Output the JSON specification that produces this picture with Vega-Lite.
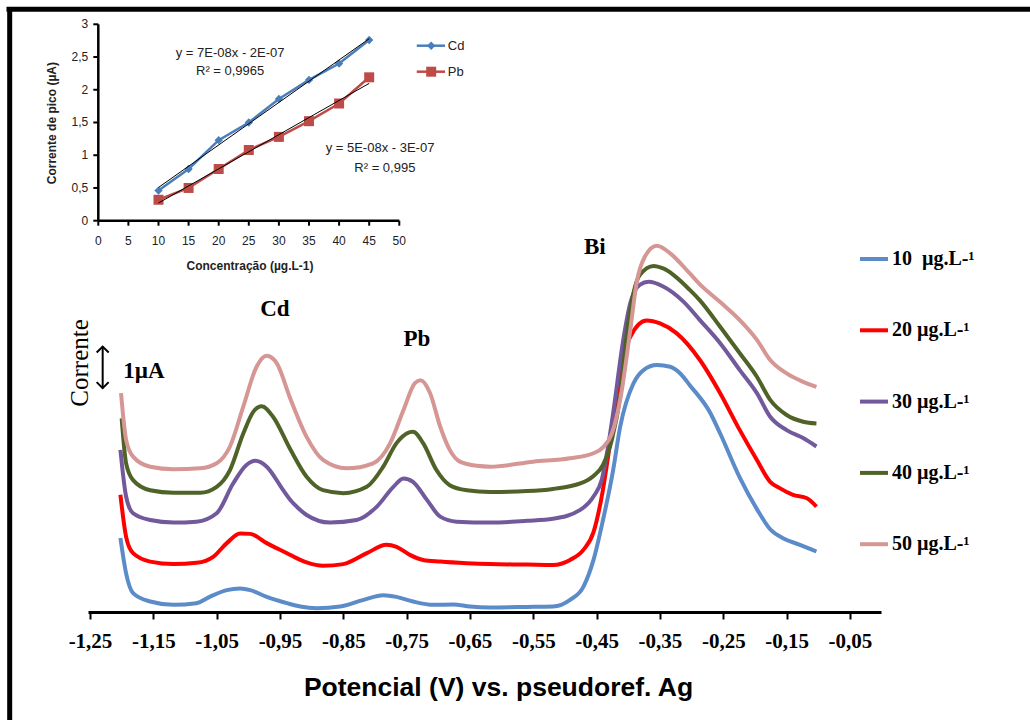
{
  "$schema": "https://vega.github.io/schema/vega-lite/v6.json",
  "width": 793,
  "height": 612,
  "autosize": {"type": "none"},
  "padding": {"left": 88, "top": 0, "right": 149, "bottom": 108},
  "background": "white",
  "config": {"view": {"stroke": null}},
  "datasets": {
    "curves": [
      {"c":10,"v":-1.202,"i":1.76},{"c":10,"v":-1.193,"i":0.92},{"c":10,"v":-1.182,"i":0.45},{"c":10,"v":-1.155,"i":0.25},{"c":10,"v":-1.118,"i":0.17},{"c":10,"v":-1.082,"i":0.21},{"c":10,"v":-1.061,"i":0.36},{"c":10,"v":-1.034,"i":0.52},{"c":10,"v":-1.013,"i":0.56},{"c":10,"v":-0.997,"i":0.52},{"c":10,"v":-0.971,"i":0.36},{"c":10,"v":-0.939,"i":0.21},{"c":10,"v":-0.918,"i":0.13},{"c":10,"v":-0.892,"i":0.09},{"c":10,"v":-0.855,"i":0.13},{"c":10,"v":-0.818,"i":0.29},{"c":10,"v":-0.787,"i":0.40},{"c":10,"v":-0.766,"i":0.36},{"c":10,"v":-0.740,"i":0.25},{"c":10,"v":-0.708,"i":0.17},{"c":10,"v":-0.676,"i":0.18},{"c":10,"v":-0.650,"i":0.13},{"c":10,"v":-0.618,"i":0.11},{"c":10,"v":-0.560,"i":0.12},{"c":10,"v":-0.519,"i":0.13},{"c":10,"v":-0.492,"i":0.29},{"c":10,"v":-0.471,"i":0.60},{"c":10,"v":-0.455,"i":1.24},{"c":10,"v":-0.440,"i":2.19},{"c":10,"v":-0.424,"i":3.38},{"c":10,"v":-0.413,"i":4.40},{"c":10,"v":-0.392,"i":5.44},{"c":10,"v":-0.376,"i":5.76},{"c":10,"v":-0.355,"i":5.88},{"c":10,"v":-0.334,"i":5.84},{"c":10,"v":-0.318,"i":5.68},{"c":10,"v":-0.303,"i":5.40},{"c":10,"v":-0.271,"i":4.75},{"c":10,"v":-0.255,"i":4.25},{"c":10,"v":-0.224,"i":3.20},{"c":10,"v":-0.197,"i":2.45},{"c":10,"v":-0.176,"i":1.97},{"c":10,"v":-0.155,"i":1.75},{"c":10,"v":-0.129,"i":1.60},{"c":10,"v":-0.103,"i":1.44},
      {"c":20,"v":-1.202,"i":2.79},{"c":20,"v":-1.193,"i":1.79},{"c":20,"v":-1.182,"i":1.40},{"c":20,"v":-1.155,"i":1.20},{"c":20,"v":-1.118,"i":1.14},{"c":20,"v":-1.082,"i":1.17},{"c":20,"v":-1.055,"i":1.32},{"c":20,"v":-1.034,"i":1.64},{"c":20,"v":-1.013,"i":1.87},{"c":20,"v":-0.997,"i":1.86},{"c":20,"v":-0.971,"i":1.64},{"c":20,"v":-0.939,"i":1.40},{"c":20,"v":-0.918,"i":1.24},{"c":20,"v":-0.908,"i":1.18},{"c":20,"v":-0.882,"i":1.10},{"c":20,"v":-0.850,"i":1.14},{"c":20,"v":-0.813,"i":1.40},{"c":20,"v":-0.782,"i":1.60},{"c":20,"v":-0.766,"i":1.55},{"c":20,"v":-0.745,"i":1.36},{"c":20,"v":-0.724,"i":1.24},{"c":20,"v":-0.697,"i":1.20},{"c":20,"v":-0.655,"i":1.16},{"c":20,"v":-0.618,"i":1.14},{"c":20,"v":-0.560,"i":1.13},{"c":20,"v":-0.519,"i":1.12},{"c":20,"v":-0.492,"i":1.24},{"c":20,"v":-0.471,"i":1.48},{"c":20,"v":-0.455,"i":1.90},{"c":20,"v":-0.442,"i":2.75},{"c":20,"v":-0.429,"i":4.00},{"c":20,"v":-0.413,"i":5.68},{"c":20,"v":-0.397,"i":6.55},{"c":20,"v":-0.371,"i":6.94},{"c":20,"v":-0.350,"i":6.87},{"c":20,"v":-0.324,"i":6.64},{"c":20,"v":-0.287,"i":6.00},{"c":20,"v":-0.255,"i":5.21},{"c":20,"v":-0.224,"i":4.33},{"c":20,"v":-0.197,"i":3.62},{"c":20,"v":-0.176,"i":3.10},{"c":20,"v":-0.161,"i":2.95},{"c":20,"v":-0.140,"i":2.79},{"c":20,"v":-0.118,"i":2.71},{"c":20,"v":-0.103,"i":2.51},
      {"c":30,"v":-1.202,"i":3.86},{"c":30,"v":-1.193,"i":2.75},{"c":30,"v":-1.182,"i":2.35},{"c":30,"v":-1.155,"i":2.19},{"c":30,"v":-1.118,"i":2.13},{"c":30,"v":-1.082,"i":2.15},{"c":30,"v":-1.050,"i":2.35},{"c":30,"v":-1.024,"i":3.06},{"c":30,"v":-1.003,"i":3.50},{"c":30,"v":-0.989,"i":3.60},{"c":30,"v":-0.971,"i":3.46},{"c":30,"v":-0.945,"i":2.90},{"c":30,"v":-0.934,"i":2.67},{"c":30,"v":-0.918,"i":2.43},{"c":30,"v":-0.908,"i":2.31},{"c":30,"v":-0.871,"i":2.13},{"c":30,"v":-0.829,"i":2.19},{"c":30,"v":-0.797,"i":2.51},{"c":30,"v":-0.771,"i":2.98},{"c":30,"v":-0.755,"i":3.18},{"c":30,"v":-0.740,"i":3.10},{"c":30,"v":-0.718,"i":2.67},{"c":30,"v":-0.697,"i":2.27},{"c":30,"v":-0.671,"i":2.15},{"c":30,"v":-0.618,"i":2.13},{"c":30,"v":-0.560,"i":2.17},{"c":30,"v":-0.519,"i":2.22},{"c":30,"v":-0.476,"i":2.43},{"c":30,"v":-0.455,"i":2.75},{"c":30,"v":-0.442,"i":3.15},{"c":30,"v":-0.432,"i":3.94},{"c":30,"v":-0.424,"i":4.73},{"c":30,"v":-0.408,"i":6.48},{"c":30,"v":-0.397,"i":7.35},{"c":30,"v":-0.382,"i":7.79},{"c":30,"v":-0.368,"i":7.86},{"c":30,"v":-0.345,"i":7.75},{"c":30,"v":-0.313,"i":7.39},{"c":30,"v":-0.287,"i":6.95},{"c":30,"v":-0.255,"i":6.40},{"c":30,"v":-0.224,"i":5.76},{"c":30,"v":-0.197,"i":5.21},{"c":30,"v":-0.176,"i":4.65},{"c":30,"v":-0.150,"i":4.33},{"c":30,"v":-0.124,"i":4.14},{"c":30,"v":-0.103,"i":3.94},
      {"c":40,"v":-1.200,"i":4.61},{"c":40,"v":-1.193,"i":3.54},{"c":40,"v":-1.182,"i":3.14},{"c":40,"v":-1.155,"i":2.90},{"c":40,"v":-1.118,"i":2.84},{"c":40,"v":-1.076,"i":2.84},{"c":40,"v":-1.050,"i":2.98},{"c":40,"v":-1.029,"i":3.38},{"c":40,"v":-1.008,"i":4.25},{"c":40,"v":-0.992,"i":4.77},{"c":40,"v":-0.979,"i":4.90},{"c":40,"v":-0.961,"i":4.65},{"c":40,"v":-0.934,"i":3.88},{"c":40,"v":-0.908,"i":3.22},{"c":40,"v":-0.882,"i":2.90},{"c":40,"v":-0.850,"i":2.83},{"c":40,"v":-0.813,"i":2.98},{"c":40,"v":-0.787,"i":3.46},{"c":40,"v":-0.766,"i":4.02},{"c":40,"v":-0.750,"i":4.25},{"c":40,"v":-0.740,"i":4.29},{"c":40,"v":-0.724,"i":4.02},{"c":40,"v":-0.703,"i":3.38},{"c":40,"v":-0.682,"i":3.02},{"c":40,"v":-0.655,"i":2.90},{"c":40,"v":-0.618,"i":2.86},{"c":40,"v":-0.560,"i":2.88},{"c":40,"v":-0.519,"i":2.93},{"c":40,"v":-0.476,"i":3.06},{"c":40,"v":-0.455,"i":3.24},{"c":40,"v":-0.440,"i":3.50},{"c":40,"v":-0.426,"i":4.10},{"c":40,"v":-0.413,"i":5.13},{"c":40,"v":-0.403,"i":6.55},{"c":40,"v":-0.392,"i":7.59},{"c":40,"v":-0.382,"i":8.02},{"c":40,"v":-0.360,"i":8.24},{"c":40,"v":-0.345,"i":8.18},{"c":40,"v":-0.303,"i":7.67},{"c":40,"v":-0.287,"i":7.42},{"c":40,"v":-0.255,"i":6.79},{"c":40,"v":-0.224,"i":6.16},{"c":40,"v":-0.197,"i":5.60},{"c":40,"v":-0.176,"i":5.05},{"c":40,"v":-0.150,"i":4.69},{"c":40,"v":-0.124,"i":4.53},{"c":40,"v":-0.103,"i":4.49},
      {"c":50,"v":-1.201,"i":5.21},{"c":50,"v":-1.193,"i":4.10},{"c":50,"v":-1.182,"i":3.70},{"c":50,"v":-1.155,"i":3.46},{"c":50,"v":-1.118,"i":3.40},{"c":50,"v":-1.076,"i":3.42},{"c":50,"v":-1.050,"i":3.54},{"c":50,"v":-1.029,"i":3.94},{"c":50,"v":-1.008,"i":4.89},{"c":50,"v":-0.987,"i":5.84},{"c":50,"v":-0.971,"i":6.10},{"c":50,"v":-0.955,"i":5.92},{"c":50,"v":-0.934,"i":5.09},{"c":50,"v":-0.908,"i":4.17},{"c":50,"v":-0.882,"i":3.62},{"c":50,"v":-0.845,"i":3.42},{"c":50,"v":-0.803,"i":3.54},{"c":50,"v":-0.776,"i":4.02},{"c":50,"v":-0.755,"i":4.81},{"c":50,"v":-0.737,"i":5.45},{"c":50,"v":-0.728,"i":5.52},{"c":50,"v":-0.713,"i":5.21},{"c":50,"v":-0.697,"i":4.41},{"c":50,"v":-0.682,"i":3.86},{"c":50,"v":-0.666,"i":3.58},{"c":50,"v":-0.639,"i":3.48},{"c":50,"v":-0.618,"i":3.46},{"c":50,"v":-0.550,"i":3.58},{"c":50,"v":-0.492,"i":3.66},{"c":50,"v":-0.455,"i":3.78},{"c":50,"v":-0.440,"i":3.92},{"c":50,"v":-0.426,"i":4.25},{"c":50,"v":-0.412,"i":5.13},{"c":50,"v":-0.397,"i":6.71},{"c":50,"v":-0.387,"i":7.83},{"c":50,"v":-0.374,"i":8.46},{"c":50,"v":-0.355,"i":8.72},{"c":50,"v":-0.334,"i":8.54},{"c":50,"v":-0.303,"i":8.06},{"c":50,"v":-0.287,"i":7.80},{"c":50,"v":-0.255,"i":7.38},{"c":50,"v":-0.224,"i":6.95},{"c":50,"v":-0.197,"i":6.48},{"c":50,"v":-0.176,"i":6.00},{"c":50,"v":-0.150,"i":5.68},{"c":50,"v":-0.124,"i":5.48},{"c":50,"v":-0.103,"i":5.36}
    ],
    "peaks": [{"v":-0.958,"i":7.05,"t":"Cd"},{"v":-0.734,"i":6.33,"t":"Pb"},{"v":-0.453,"i":8.52,"t":"Bi"},{"v":-1.165,"i":5.57,"t":"1µA"}],
    "ylabel": [{"v":-1.253,"i":5.93,"t":"Corrente"}],
    "arrow": [{"v":-1.230,"i":5.33,"i2":6.32}],
    "heads": [{"v":-1.230,"i":6.32,"d":"up"},{"v":-1.230,"i":5.33,"d":"down"}],
    "frame": [{"x":-14.72,"x2":-14.72,"y":3.264,"y2":-7.7},{"x":-15.25,"x2":155,"y":3.23,"y2":3.23}],
    "iaxes": [{"x":0,"x2":50,"y":0,"y2":0},{"x":0,"x2":0,"y":0,"y2":3}],
    "iticks": [
      {"a":"x","v":0,"l":"0"},{"a":"x","v":5,"l":"5"},{"a":"x","v":10,"l":"10"},{"a":"x","v":15,"l":"15"},{"a":"x","v":20,"l":"20"},{"a":"x","v":25,"l":"25"},{"a":"x","v":30,"l":"30"},{"a":"x","v":35,"l":"35"},{"a":"x","v":40,"l":"40"},{"a":"x","v":45,"l":"45"},{"a":"x","v":50,"l":"50"},
      {"a":"y","v":0,"l":"0"},{"a":"y","v":0.5,"l":"0,5"},{"a":"y","v":1,"l":"1"},{"a":"y","v":1.5,"l":"1,5"},{"a":"y","v":2,"l":"2"},{"a":"y","v":2.5,"l":"2,5"},{"a":"y","v":3,"l":"3"}
    ],
    "calib": [
      {"m":"Cd","conc":10,"ip":0.46},{"m":"Cd","conc":15,"ip":0.79},{"m":"Cd","conc":20,"ip":1.23},{"m":"Cd","conc":25,"ip":1.50},{"m":"Cd","conc":30,"ip":1.86},{"m":"Cd","conc":35,"ip":2.15},{"m":"Cd","conc":40,"ip":2.40},{"m":"Cd","conc":45,"ip":2.76},
      {"m":"Pb","conc":10,"ip":0.32},{"m":"Pb","conc":15,"ip":0.50},{"m":"Pb","conc":20,"ip":0.79},{"m":"Pb","conc":25,"ip":1.08},{"m":"Pb","conc":30,"ip":1.28},{"m":"Pb","conc":35,"ip":1.52},{"m":"Pb","conc":40,"ip":1.79},{"m":"Pb","conc":45,"ip":2.19}
    ],
    "eqs": [
      {"conc":21.9,"ip":2.505,"t":"y = 7E-08x - 2E-07"},
      {"conc":21.9,"ip":2.22,"t":"R² = 0,9965"},
      {"conc":46.8,"ip":1.054,"t":"y =  5E-08x - 3E-07"},
      {"conc":47.6,"ip":0.749,"t":"R² = 0,995"}
    ],
    "ileg": [{"m":"Cd","ip":2.673},{"m":"Pb","ip":2.276}],
    "ixtitle": [{"conc":25.2,"ip":-0.753,"t":"Concentração (µg.L-1)"}],
    "iytitle": [{"conc":-7.03,"ip":1.49,"t":"Corrente de pico (µA)"}]
  },
  "layer": [
    {
      "layer": [
        {
          "data": {"name": "curves"},
          "mark": {"type": "line", "interpolate": "monotone", "strokeWidth": 4},
          "encoding": {
            "x": {"field": "v", "type": "quantitative", "scale": {"domain": [-1.25316, -0.00105], "nice": false, "zero": false},
              "axis": {
                "orient": "bottom",
                "values": [-1.25,-1.15,-1.05,-0.95,-0.85,-0.75,-0.65,-0.55,-0.45,-0.35,-0.25,-0.15,-0.05],
                "labelExpr": "'-' + replace(format(abs(datum.value), '.2f'), '.', ',')",
                "grid": false, "domainColor": "black", "domainWidth": 3, "tickColor": "black", "tickWidth": 2, "tickSize": 7,
                "labelFont": "Liberation Serif", "labelFontWeight": "bold", "labelFontSize": 21, "labelColor": "black", "labelPadding": 11,
                "labelFlush": false, "labelOverlap": false,
                "title": "Potencial (V) vs. pseudoref. Ag", "titleFont": "Liberation Sans", "titleFontWeight": "bold", "titleFontSize": 26.5,
                "titleColor": "black", "titleX": 410, "titleY": 83, "titleAlign": "center", "titleBaseline": "alphabetic"
              }},
            "y": {"field": "i", "type": "quantitative", "scale": {"domain": [0, 14.571], "nice": false, "zero": false}, "axis": null},
            "color": {"field": "c", "type": "nominal",
              "scale": {"domain": [10, 20, 30, 40, 50], "range": ["#5B8BC9", "#FF0000", "#72599B", "#4F6228", "#D59694"]},
              "legend": {
                "orient": "none", "legendX": 770, "legendY": 243, "title": null, "padding": 0,
                "symbolType": "stroke", "symbolSize": 784, "symbolStrokeWidth": 4,
                "labelFont": "Liberation Serif", "labelFontWeight": "bold", "labelFontSize": 20, "labelColor": "black",
                "labelOffset": 2, "rowPadding": 45.3,
                "labelExpr": "datum.label == '10' ? '10\u00a0 µg.L-¹' : datum.label + ' µg.L-¹'"
              }}
          }
        },
        {
          "data": {"name": "peaks"},
          "mark": {"type": "text", "font": "Liberation Serif", "fontWeight": "bold", "fontSize": 23, "align": "center", "baseline": "alphabetic", "color": "black"},
          "encoding": {
            "x": {"field": "v", "type": "quantitative", "scale": {"domain": [-1.25316, -0.00105], "nice": false, "zero": false}},
            "y": {"field": "i", "type": "quantitative", "scale": {"domain": [0, 14.571], "nice": false, "zero": false}, "axis": null},
            "text": {"field": "t"}
          }
        },
        {
          "data": {"name": "ylabel"},
          "mark": {"type": "text", "font": "Liberation Serif", "fontSize": 25, "angle": 270, "align": "center", "baseline": "alphabetic", "color": "black"},
          "encoding": {
            "x": {"field": "v", "type": "quantitative", "scale": {"domain": [-1.25316, -0.00105], "nice": false, "zero": false}},
            "y": {"field": "i", "type": "quantitative", "scale": {"domain": [0, 14.571], "nice": false, "zero": false}, "axis": null},
            "text": {"field": "t"}
          }
        },
        {
          "data": {"name": "arrow"},
          "mark": {"type": "rule", "color": "black", "strokeWidth": 2},
          "encoding": {
            "x": {"field": "v", "type": "quantitative", "scale": {"domain": [-1.25316, -0.00105], "nice": false, "zero": false}},
            "y": {"field": "i", "type": "quantitative", "scale": {"domain": [0, 14.571], "nice": false, "zero": false}, "axis": null},
            "y2": {"field": "i2"}
          }
        },
        {
          "data": {"name": "heads"},
          "mark": {"type": "point", "filled": false, "color": "black", "strokeWidth": 2, "size": 144, "opacity": 1},
          "encoding": {
            "x": {"field": "v", "type": "quantitative", "scale": {"domain": [-1.25316, -0.00105], "nice": false, "zero": false}},
            "y": {"field": "i", "type": "quantitative", "scale": {"domain": [0, 14.571], "nice": false, "zero": false}, "axis": null},
            "shape": {"field": "d", "type": "nominal", "scale": {"domain": ["up", "down"], "range": ["M-1,1L0,0L1,1", "M-1,-1L0,0L1,-1"]}, "legend": null}
          }
        }
      ]
    },
    {
      "layer": [
        {
          "data": {"name": "frame"},
          "mark": {"type": "rule", "color": "black", "strokeWidth": 5},
          "encoding": {
            "x": {"field": "x", "type": "quantitative", "scale": {"domain": [-1.711, 130.02], "nice": false, "zero": false}, "axis": null},
            "x2": {"field": "x2"},
            "y": {"field": "y", "type": "quantitative", "scale": {"domain": [-5.977, 3.371], "nice": false, "zero": false}, "axis": null},
            "y2": {"field": "y2"}
          }
        },
        {
          "data": {"name": "iaxes"},
          "mark": {"type": "rule", "color": "black", "strokeWidth": 2.5},
          "encoding": {
            "x": {"field": "x", "type": "quantitative", "scale": {"domain": [-1.711, 130.02], "nice": false, "zero": false}, "axis": null},
            "x2": {"field": "x2"},
            "y": {"field": "y", "type": "quantitative", "scale": {"domain": [-5.977, 3.371], "nice": false, "zero": false}, "axis": null},
            "y2": {"field": "y2"}
          }
        },
        {
          "data": {"name": "iticks"},
          "transform": [{"filter": "datum.a == 'x'"}],
          "mark": {"type": "rule", "color": "black", "strokeWidth": 2, "y2Offset": 5},
          "encoding": {
            "x": {"field": "v", "type": "quantitative", "scale": {"domain": [-1.711, 130.02], "nice": false, "zero": false}, "axis": null},
            "y": {"datum": 0, "type": "quantitative", "scale": {"domain": [-5.977, 3.371], "nice": false, "zero": false}, "axis": null},
            "y2": {"datum": 0}
          }
        },
        {
          "data": {"name": "iticks"},
          "transform": [{"filter": "datum.a == 'y'"}],
          "mark": {"type": "rule", "color": "black", "strokeWidth": 2, "x2Offset": -5},
          "encoding": {
            "x": {"datum": 0, "type": "quantitative", "scale": {"domain": [-1.711, 130.02], "nice": false, "zero": false}, "axis": null},
            "x2": {"datum": 0},
            "y": {"field": "v", "type": "quantitative", "scale": {"domain": [-5.977, 3.371], "nice": false, "zero": false}, "axis": null}
          }
        },
        {
          "data": {"name": "iticks"},
          "transform": [{"filter": "datum.a == 'x'"}],
          "mark": {"type": "text", "font": "Liberation Sans", "fontSize": 12, "color": "#222", "align": "center", "baseline": "middle", "dy": 20},
          "encoding": {
            "x": {"field": "v", "type": "quantitative", "scale": {"domain": [-1.711, 130.02], "nice": false, "zero": false}, "axis": null},
            "y": {"datum": 0, "type": "quantitative", "scale": {"domain": [-5.977, 3.371], "nice": false, "zero": false}, "axis": null},
            "text": {"field": "l"}
          }
        },
        {
          "data": {"name": "iticks"},
          "transform": [{"filter": "datum.a == 'y'"}],
          "mark": {"type": "text", "font": "Liberation Sans", "fontSize": 12, "color": "#222", "align": "right", "baseline": "middle", "dx": -10},
          "encoding": {
            "x": {"datum": 0, "type": "quantitative", "scale": {"domain": [-1.711, 130.02], "nice": false, "zero": false}, "axis": null},
            "y": {"field": "v", "type": "quantitative", "scale": {"domain": [-5.977, 3.371], "nice": false, "zero": false}, "axis": null},
            "text": {"field": "l"}
          }
        },
        {
          "data": {"name": "calib"},
          "mark": {"type": "line", "strokeWidth": 2.5},
          "encoding": {
            "x": {"field": "conc", "type": "quantitative", "scale": {"domain": [-1.711, 130.02], "nice": false, "zero": false}, "axis": null},
            "y": {"field": "ip", "type": "quantitative", "scale": {"domain": [-5.977, 3.371], "nice": false, "zero": false}, "axis": null},
            "color": {"field": "m", "type": "nominal", "scale": {"domain": ["Cd", "Pb"], "range": ["#4A7EBB", "#BE4B48"]}, "legend": null}
          }
        },
        {
          "data": {"name": "calib"},
          "mark": {"type": "point", "filled": true, "opacity": 1},
          "encoding": {
            "x": {"field": "conc", "type": "quantitative", "scale": {"domain": [-1.711, 130.02], "nice": false, "zero": false}, "axis": null},
            "y": {"field": "ip", "type": "quantitative", "scale": {"domain": [-5.977, 3.371], "nice": false, "zero": false}, "axis": null},
            "color": {"field": "m", "type": "nominal", "scale": {"domain": ["Cd", "Pb"], "range": ["#4A7EBB", "#BE4B48"]}, "legend": null},
            "shape": {"field": "m", "type": "nominal", "scale": {"domain": ["Cd", "Pb"], "range": ["diamond", "square"]}, "legend": null},
            "size": {"field": "m", "type": "nominal", "scale": {"domain": ["Cd", "Pb"], "range": [70, 100]}, "legend": null}
          }
        },
        {
          "data": {"name": "calib"},
          "transform": [{"regression": "ip", "on": "conc", "groupby": ["m"], "extent": [10, 45]}],
          "mark": {"type": "line", "color": "black", "strokeWidth": 1},
          "encoding": {
            "x": {"field": "conc", "type": "quantitative", "scale": {"domain": [-1.711, 130.02], "nice": false, "zero": false}, "axis": null},
            "y": {"field": "ip", "type": "quantitative", "scale": {"domain": [-5.977, 3.371], "nice": false, "zero": false}, "axis": null},
            "detail": {"field": "m"}
          }
        },
        {
          "data": {"name": "eqs"},
          "mark": {"type": "text", "font": "Liberation Sans", "fontSize": 13, "color": "#222", "align": "center", "baseline": "alphabetic"},
          "encoding": {
            "x": {"field": "conc", "type": "quantitative", "scale": {"domain": [-1.711, 130.02], "nice": false, "zero": false}, "axis": null},
            "y": {"field": "ip", "type": "quantitative", "scale": {"domain": [-5.977, 3.371], "nice": false, "zero": false}, "axis": null},
            "text": {"field": "t"}
          }
        },
        {
          "data": {"name": "ileg"},
          "mark": {"type": "rule", "strokeWidth": 2.5},
          "encoding": {
            "x": {"datum": 52.9, "type": "quantitative", "scale": {"domain": [-1.711, 130.02], "nice": false, "zero": false}, "axis": null},
            "x2": {"datum": 57.6},
            "y": {"field": "ip", "type": "quantitative", "scale": {"domain": [-5.977, 3.371], "nice": false, "zero": false}, "axis": null},
            "color": {"field": "m", "type": "nominal", "scale": {"domain": ["Cd", "Pb"], "range": ["#4A7EBB", "#BE4B48"]}, "legend": null}
          }
        },
        {
          "data": {"name": "ileg"},
          "mark": {"type": "point", "filled": true, "opacity": 1},
          "encoding": {
            "x": {"datum": 55.3, "type": "quantitative", "scale": {"domain": [-1.711, 130.02], "nice": false, "zero": false}, "axis": null},
            "y": {"field": "ip", "type": "quantitative", "scale": {"domain": [-5.977, 3.371], "nice": false, "zero": false}, "axis": null},
            "color": {"field": "m", "type": "nominal", "scale": {"domain": ["Cd", "Pb"], "range": ["#4A7EBB", "#BE4B48"]}, "legend": null},
            "shape": {"field": "m", "type": "nominal", "scale": {"domain": ["Cd", "Pb"], "range": ["diamond", "square"]}, "legend": null},
            "size": {"field": "m", "type": "nominal", "scale": {"domain": ["Cd", "Pb"], "range": [70, 100]}, "legend": null}
          }
        },
        {
          "data": {"name": "ileg"},
          "mark": {"type": "text", "font": "Liberation Sans", "fontSize": 13, "color": "#222", "align": "left", "baseline": "middle", "dx": 1},
          "encoding": {
            "x": {"datum": 57.9, "type": "quantitative", "scale": {"domain": [-1.711, 130.02], "nice": false, "zero": false}, "axis": null},
            "y": {"field": "ip", "type": "quantitative", "scale": {"domain": [-5.977, 3.371], "nice": false, "zero": false}, "axis": null},
            "text": {"field": "m"}
          }
        },
        {
          "data": {"name": "ixtitle"},
          "mark": {"type": "text", "font": "Liberation Sans", "fontSize": 12, "fontWeight": "bold", "color": "#222", "align": "center", "baseline": "alphabetic"},
          "encoding": {
            "x": {"field": "conc", "type": "quantitative", "scale": {"domain": [-1.711, 130.02], "nice": false, "zero": false}, "axis": null},
            "y": {"field": "ip", "type": "quantitative", "scale": {"domain": [-5.977, 3.371], "nice": false, "zero": false}, "axis": null},
            "text": {"field": "t"}
          }
        },
        {
          "data": {"name": "iytitle"},
          "mark": {"type": "text", "font": "Liberation Sans", "fontSize": 12, "fontWeight": "bold", "color": "#222", "align": "center", "baseline": "alphabetic", "angle": 270},
          "encoding": {
            "x": {"field": "conc", "type": "quantitative", "scale": {"domain": [-1.711, 130.02], "nice": false, "zero": false}, "axis": null},
            "y": {"field": "ip", "type": "quantitative", "scale": {"domain": [-5.977, 3.371], "nice": false, "zero": false}, "axis": null},
            "text": {"field": "t"}
          }
        }
      ]
    }
  ],
  "resolve": {"scale": {"x": "independent", "y": "independent", "color": "independent", "shape": "independent", "size": "independent"}}
}
